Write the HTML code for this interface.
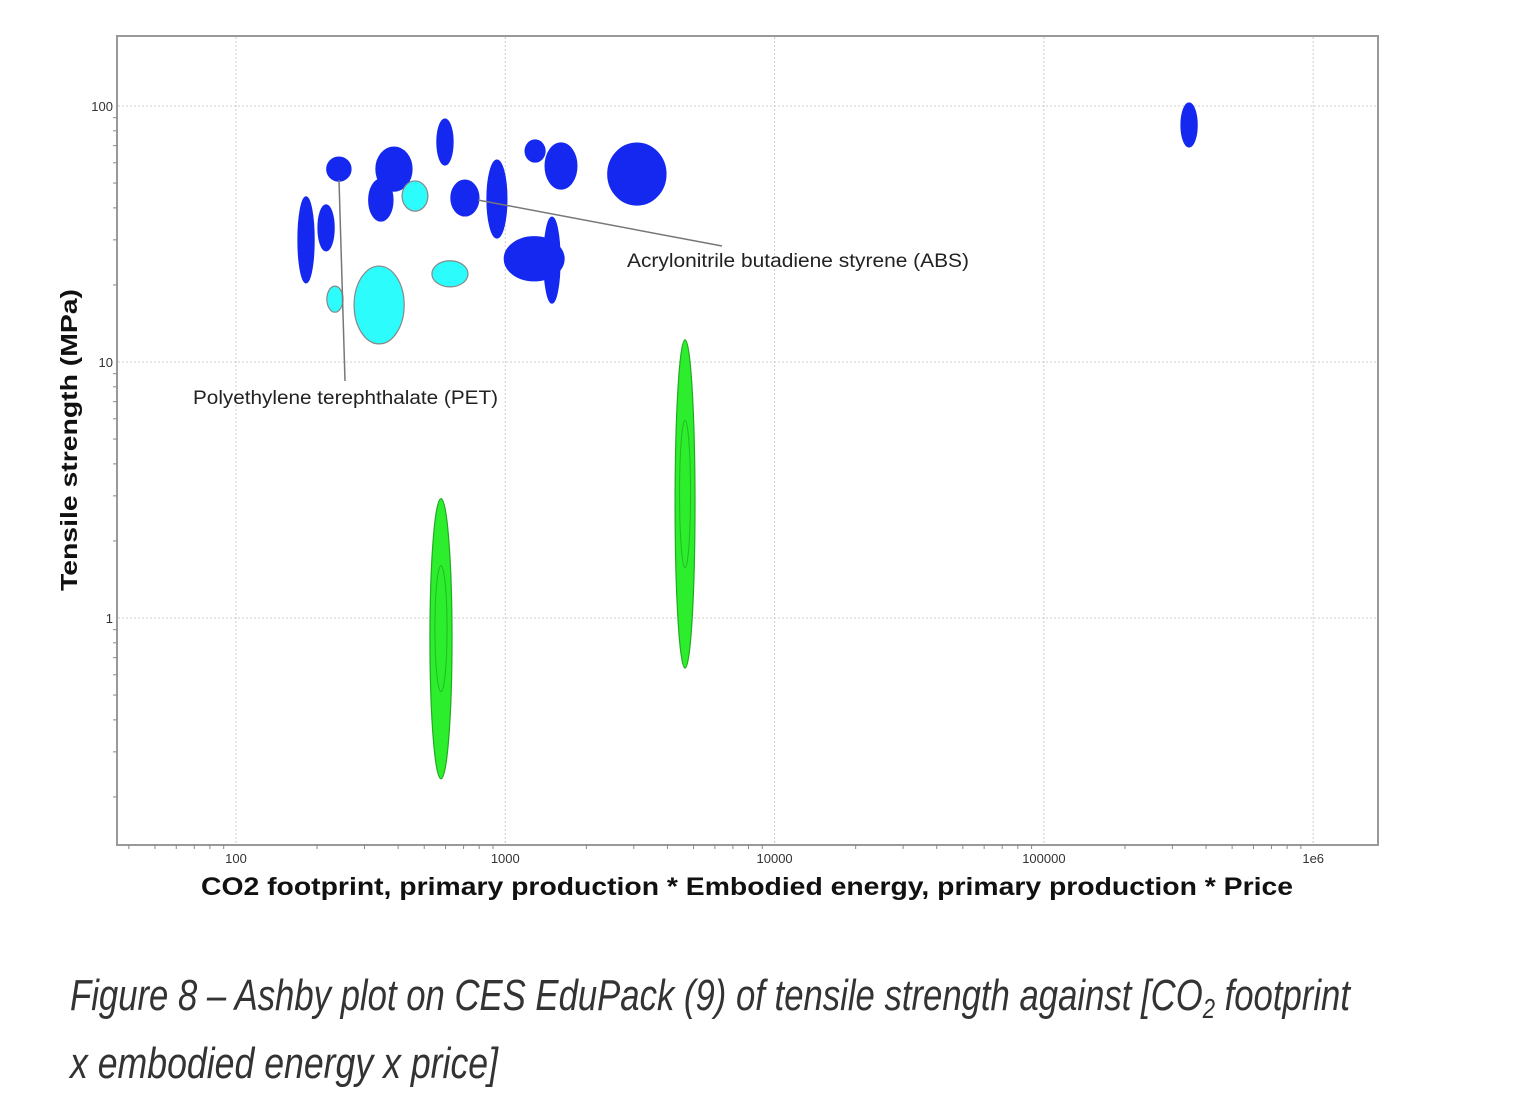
<!DOCTYPE html>
<html><head><meta charset="utf-8"><style>
body{margin:0;background:#fff;}
svg{display:block;font-family:"Liberation Sans",sans-serif;}
</style></head><body>
<svg id="chart" width="1516" height="1114" viewBox="0 0 1516 1114">
<rect x="117" y="36" width="1261" height="809" fill="#fff" stroke="#999" stroke-width="2"/>
<g id="grid"></g>
<g id="ticks"></g>
<g id="marks"></g>
<g>
<line x1="339" y1="180" x2="345" y2="381" stroke="#777" stroke-width="1.5"/>
<text x="193" y="404" font-size="19" fill="#222" textLength="305" lengthAdjust="spacingAndGlyphs">Polyethylene terephthalate (PET)</text>
<line x1="478" y1="200" x2="722" y2="246" stroke="#777" stroke-width="1.5"/>
<text x="627" y="267" font-size="19" fill="#222" textLength="342" lengthAdjust="spacingAndGlyphs">Acrylonitrile butadiene styrene (ABS)</text>
</g>
<text x="747" y="895" font-size="25" font-weight="bold" text-anchor="middle" fill="#111" textLength="1092" lengthAdjust="spacingAndGlyphs">CO2 footprint, primary production * Embodied energy, primary production * Price</text>
<text transform="translate(77,440) rotate(-90)" font-size="23" font-weight="bold" text-anchor="middle" fill="#111" textLength="302" lengthAdjust="spacingAndGlyphs">Tensile strength (MPa)</text>
<text x="70" y="1010" font-size="44" font-style="italic" fill="#333" textLength="1280" lengthAdjust="spacingAndGlyphs">Figure 8 – Ashby plot on CES EduPack (9) of tensile strength against [CO<tspan font-size="28" dy="8">2</tspan><tspan dy="-8"> footprint</tspan></text>
<text x="70" y="1078" font-size="44" font-style="italic" fill="#333" textLength="428" lengthAdjust="spacingAndGlyphs">x embodied energy x price]</text>
</svg>
<script>
// data: centre value (x,y), half-width / half-height in decades, family
const xValues=[241,386,597,1290,1610,3080,345,462,708,931,182,216,1280,1490,233,340,623,346000,4650,577];
const yValues=[56.7,56.7,72.3,66.7,58.3,54.2,42.9,44.5,43.7,43.3,30.0,33.4,25.3,25.0,17.6,16.7,22.1,84.3,2.79,0.83];
const xSpanDec=[0.045,0.067,0.030,0.037,0.059,0.108,0.045,0.048,0.052,0.037,0.030,0.030,0.111,0.030,0.030,0.093,0.067,0.030,0.037,0.041];
const ySpanDec=[0.047,0.086,0.090,0.043,0.090,0.121,0.082,0.059,0.070,0.152,0.168,0.090,0.086,0.168,0.051,0.152,0.051,0.086,0.641,0.547];
const families=["b","b","b","b","b","b","b","c","b","b","b","b","b","b","c","c","c","b","g","g"];
const xTicks=[100,1000,10000,100000,1000000];
const xTickLabels=["100","1000","10000","100000","1e6"];
const yTicks=[1,10,100];
const yTickLabels=["1","10","100"];

const X0=236,XD=269.3,Y0=362,YD=256;
const xs=v=>X0+XD*Math.log10(v/100);
const ys=v=>Y0-YD*Math.log10(v/10);
const NS="http://www.w3.org/2000/svg";
function mk(tag,attrs,parent){const e=document.createElementNS(NS,tag);for(const k in attrs)e.setAttribute(k,attrs[k]);parent.appendChild(e);return e;}
const grid=document.getElementById('grid'),ticks=document.getElementById('ticks'),marks=document.getElementById('marks');
xTicks.forEach((t,i)=>{
  const gl=mk('line',{x1:xs(t),x2:xs(t),y1:37,y2:844,stroke:'#ccc','stroke-dasharray':'2,2'},grid);
  
  
  const tl=mk('text',{x:xs(t),y:863,'font-size':13,'text-anchor':'middle',fill:'#333'},ticks);
  tl.textContent=xTickLabels[i];
  
  
});
yTicks.forEach((t,i)=>{
  const gl=mk('line',{x1:118,x2:1377,y1:ys(t),y2:ys(t),stroke:'#ccc','stroke-dasharray':'2,2'},grid);
  
  
  const tl=mk('text',{x:113,y:ys(t)+5,'font-size':13,'text-anchor':'end',fill:'#333'},ticks);
  tl.textContent=yTickLabels[i];
  
  
});
for(let d=10;d<=1e6;d*=10)for(let m=2;m<=9;m++){const v=d*m;const x=xs(v);if(x>117&&x<1378){const l=mk('line',{x1:x,x2:x,y1:845,y2:849,stroke:'#888'},ticks);}}
for(let d=0.1;d<=100;d*=10)for(let m=2;m<=9;m++){const v=d*m;const y=ys(v);if(y>36&&y<845){const l=mk('line',{x1:113,x2:117,y1:y,y2:y,stroke:'#888'},ticks);}}
const fills={b:'#1428f0',c:'#2cfcfc',g:'#2cee2c'};
const strokes={b:'#1428f0',c:'#888',g:'#22aa22'};
xValues.forEach((xv,i)=>{
  const f=families[i];
  const e=mk('ellipse',{cx:xs(xv),cy:ys(yValues[i]),rx:xSpanDec[i]*XD,ry:ySpanDec[i]*YD,fill:fills[f],stroke:strokes[f],'stroke-width':1.2},marks);
  
  
  if(f==='g'){
    const inner=mk('ellipse',{cx:xs(xv),cy:ys(yValues[i])-10,rx:xSpanDec[i]*XD*0.55,ry:ySpanDec[i]*YD*0.45,fill:'none',stroke:'#22bb22','stroke-width':1},marks);
    
    
  }
});
</script>
</body></html>
